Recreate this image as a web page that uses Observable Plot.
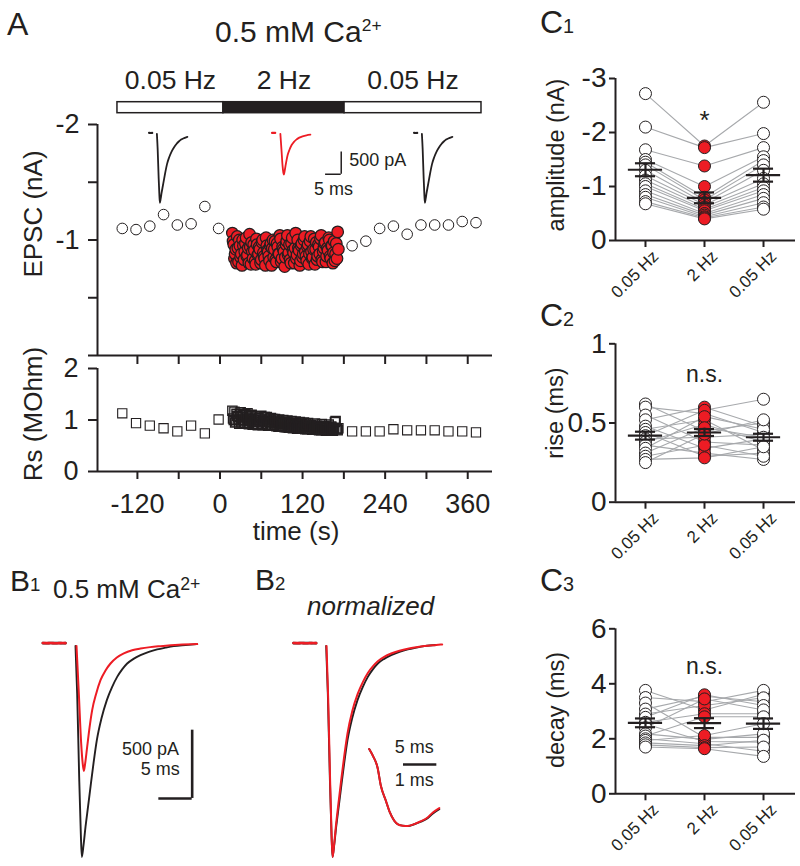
<!DOCTYPE html>
<html>
<head>
<meta charset="utf-8">
<script src="https://cdn.jsdelivr.net/npm/d3@7"></script>
<script src="https://cdn.jsdelivr.net/npm/@observablehq/plot@0.6"></script>
<style>
html, body { margin: 0; padding: 0; background: #fff; }
#fig { position: relative; width: 800px; height: 866px; overflow: hidden; background: #fff;
  font-family: 'Liberation Sans', Arial, Helvetica, sans-serif; color: #231f20; }
#fig > svg { position: absolute; }
.t { position: absolute; white-space: nowrap; line-height: 1; }
.t sup { font-size: 0.58em; line-height: 0; vertical-align: baseline; position: relative; top: -0.62em; }
.t sup.b { font-size: 0.68em; top: -0.45em; }
.t .sub { font-size: 0.62em; }
</style>
</head>
<body>
<div id="fig"></div>
<script>
// ================= DATA =================
// Panel A: time course (s), EPSC amplitude (nA), series resistance
const timeTicks = [-120, -60, 0, 60, 120, 180, 240, 300, 360];
const preTime  = [-142, -122, -102, -82, -62, -42, -22, -2];
const preEPSC  = [-1.10, -1.09, -1.12, -1.22, -1.13, -1.14, -1.29, -1.10];
const preRs    = [1.13, 0.94, 0.89, 0.84, 0.78, 0.89, 0.74, 1.01];
const postTime = [192, 212, 232, 252, 272, 292, 312, 332, 352, 372];
const postEPSC = [-0.95, -0.99, -1.10, -1.12, -1.05, -1.13, -1.13, -1.13, -1.16, -1.15];
const postRs   = [0.78, 0.78, 0.78, 0.82, 0.80, 0.80, 0.80, 0.78, 0.78, 0.76];
// 2 Hz train, sampled on even seconds ...
const trainTimeA = [18,20,22,24,26,28,30,32,34,36,38,40,42,44,46,48,50,52,54,56,58,60,62,64,66,68,70,72,74,76,78,80,82,84,86,88,90,92,94,96,98,100,102,104,106,108,110,112,114,116,118,120,122,124,126,128,130,132,134,136,138,140,142,144,146,148,150,152,154,156,158,160,162,164,166,168,170,172];
const trainEPSCA = [-1.06,-0.96,-0.88,-0.80,-0.93,-1.00,-0.85,-0.78,-0.95,-0.90,
  -1.02,-0.87,-0.80,-0.94,-0.98,-0.84,-0.91,-0.79,-0.96,-0.88,
  -0.92,-0.83,-1.00,-0.86,-0.78,-0.95,-0.90,-0.82,-0.97,-0.93,
  -0.85,-0.99,-0.81,-0.94,-0.88,-1.01,-0.84,-0.92,-0.77,-0.96,
  -1.04,-0.89,-0.83,-0.97,-0.91,-0.80,-1.06,-0.87,-0.93,-0.78,
  -0.95,-0.85,-1.00,-0.90,-0.82,-0.96,-0.88,-1.03,-0.84,-0.92,
  -0.79,-0.98,-0.86,-0.94,-1.01,-0.83,-0.90,-0.97,-0.81,-0.93,
  -1.02,-0.86,-0.95,-0.80,-0.99,-0.88,-0.84,-0.92];
const trainRsA = [1.18,1.00,0.95,1.12,1.06,0.93,1.15,0.99,1.09,0.94,
  1.05,1.13,0.92,1.02,1.10,0.91,1.00,1.07,0.93,1.04,
  0.97,1.08,0.90,1.01,0.96,1.06,0.89,0.99,1.04,0.91,
  0.96,1.02,0.88,0.97,1.01,0.87,0.95,1.00,0.86,0.94,
  0.99,0.85,0.93,0.98,0.84,0.92,0.97,0.83,0.91,0.96,
  0.84,0.90,0.95,0.82,0.89,0.94,0.83,0.90,0.81,0.88,
  0.93,0.82,0.89,0.80,0.87,0.92,0.81,0.88,0.79,0.86,
  0.91,0.80,0.87,0.79,0.85,0.98,0.82,0.84];
// ... and on odd seconds
const trainTimeB = [19,21,23,25,27,29,31,33,35,37,39,41,43,45,47,49,51,53,55,57,59,61,63,65,67,69,71,73,75,77,79,81,83,85,87,89,91,93,95,97,99,101,103,105,107,109,111,113,115,117,119,121,123,125,127,129,131,133,135,137,139,141,143,145,147,149,151,153,155,157,159,161,163,165,167,169,171];
const trainEPSCB = [-0.99,-0.84,-0.92,-1.03,-0.81,-0.95,-0.88,-1.00,-0.83,-0.97,
  -0.86,-0.93,-1.05,-0.79,-0.90,-0.96,-0.82,-1.01,-0.87,-0.94,
  -0.80,-0.98,-0.89,-0.84,-1.02,-0.91,-0.86,-0.95,-0.78,-1.00,
  -0.92,-0.83,-0.97,-0.88,-1.04,-0.81,-0.94,-0.90,-0.85,-0.99,
  -0.87,-0.96,-0.80,-1.02,-0.89,-0.93,-0.84,-1.00,-0.91,-0.82,
  -0.97,-0.88,-1.03,-0.86,-0.94,-0.79,-0.99,-0.90,-0.85,-1.01,
  -0.92,-0.83,-0.96,-0.88,-1.04,-0.81,-0.93,-0.98,-0.86,-0.91,
  -1.00,-0.84,-0.95,-0.89,-0.82,-0.97,-1.07];
const trainRsB = [1.03,1.16,0.97,1.08,1.01,1.12,0.95,1.06,1.00,1.11,
  0.94,1.03,0.98,1.08,0.92,1.01,0.96,1.05,0.90,0.99,
  1.03,0.93,0.98,1.06,0.91,0.96,1.01,0.89,0.95,1.02,
  0.90,0.94,0.99,0.87,0.93,0.97,0.89,0.92,0.96,0.86,
  0.91,0.95,0.87,0.90,0.94,0.85,0.89,0.93,0.84,0.88,
  0.92,0.83,0.87,0.91,0.82,0.86,0.90,0.84,0.88,0.81,
  0.85,0.89,0.82,0.86,0.80,0.84,0.88,0.81,0.85,0.79,
  0.83,0.87,0.80,0.84,0.96,0.82,0.80];
const protocolLabel = ["0.05 Hz", "2 Hz", "0.05 Hz"];
const protocolStart = [-149, 5, 181];
const protocolEnd   = [5, 181, 380];

// Panel B: example EPSC traces (time ms, current pA)
const baseT      = [-4.9, -4.3, -3.7, -3.1, -2.5, -1.9, -1.5];
const baseBlackI = [0, -1, 1, 0, 1, -1, 0];
const baseRedI   = [1, 0, 1, -1, 0, 1, 0];
const blackT = [0, 0.25, 0.55, 0.8, 0.95, 1.2, 1.5, 1.9, 2.25, 2.7, 3.2, 3.9, 4.7, 5.5, 6.25, 7.0, 7.75, 8.7, 9.75, 11.0, 12.25, 13.5, 14.75, 16.5, 18.25];
const blackI = [-20, -368, -979, -1400, -1565, -1480, -1345, -1190, -1052, -880, -710, -550, -417, -320, -247, -192, -149, -115, -88, -64, -46, -33, -22, -14, -7];
const redT = [0.15, 0.5, 0.85, 1.1, 1.25, 1.45, 1.75, 2.1, 2.5, 3.1, 3.75, 4.5, 5.25, 6.2, 7.25, 8.5, 9.75, 11.2, 12.75, 15.5, 18.25];
const redI = [-20, -368, -734, -890, -935, -880, -759, -620, -490, -370, -271, -200, -149, -105, -75, -52, -39, -29, -22, -12, -7];
const normT    = [0.05, 0.3, 0.6, 0.82, 0.97, 1.2, 1.5, 1.9, 2.25, 2.7, 3.2, 3.9, 4.7, 5.5, 6.25, 7.0, 7.75, 8.7, 9.75, 11.0, 12.25, 13.5, 14.75, 16.5, 17.4];
const normRedI = [-20, -400, -1020, -1420, -1565, -1470, -1320, -1150, -1005, -830, -660, -500, -375, -285, -218, -170, -132, -100, -76, -56, -41, -30, -21, -13, -9];
const zoomT      = [0, 0.11, 0.25, 0.35, 0.5, 0.62, 0.75, 0.86, 1.0, 1.16, 1.35, 1.55, 1.75, 1.9, 2.1];
const zoomRedI   = [-0.55, -0.589, -0.658, -0.765, -0.852, -0.921, -0.969, -0.99, -0.998, -1.0, -0.989, -0.972, -0.95, -0.922, -0.895];
const zoomBlackI = [-0.55, -0.589, -0.658, -0.765, -0.852, -0.921, -0.969, -0.99, -0.998, -1.0, -0.99, -0.975, -0.954, -0.928, -0.902];
const scaleBar = {ms: 5, pA: 500};

// Panel C: paired cells, 3 conditions
const condLabels = ["0.05 Hz", "2 Hz", "0.05 Hz"];
const ampPre  = [-2.72, -2.10, -1.68, -1.50, -1.45, -1.40, -1.30, -1.20, -1.12, -1.05, -1.00, -0.92, -0.85, -0.80, -0.72, -0.68];
const amp2Hz  = [-1.75, -1.72, -1.38, -1.00, -0.80, -0.75, -0.70, -0.66, -0.62, -0.58, -0.55, -0.50, -0.47, -0.44, -0.42, -0.40];
const ampPost = [-2.56, -1.98, -1.72, -1.55, -1.48, -1.40, -1.30, -1.15, -1.05, -0.98, -0.92, -0.85, -0.78, -0.70, -0.62, -0.58];
const ampMean = [-1.31, -0.79, -1.21];
const ampSem  = [0.12, 0.10, 0.12];
const risePre  = [0.62, 0.60, 0.55, 0.52, 0.48, 0.46, 0.44, 0.42, 0.40, 0.38, 0.36, 0.34, 0.31, 0.29, 0.27, 0.25];
const rise2Hz  = [0.45, 0.56, 0.38, 0.60, 0.34, 0.52, 0.29, 0.58, 0.41, 0.49, 0.31, 0.54, 0.47, 0.36, 0.28, 0.43];
const risePost = [0.50, 0.44, 0.36, 0.48, 0.40, 0.33, 0.31, 0.65, 0.43, 0.38, 0.27, 0.46, 0.41, 0.29, 0.35, 0.52];
const riseMean = [0.42, 0.44, 0.41];
const riseSem  = [0.025, 0.022, 0.022];
const decayPre  = [3.76, 3.50, 3.30, 3.08, 2.90, 2.78, 2.60, 2.54, 2.40, 2.18, 2.10, 2.00, 1.94, 1.85, 1.78, 1.70];
const decay2Hz  = [3.05, 3.35, 2.05, 3.55, 3.21, 3.60, 2.91, 1.90, 3.45, 1.98, 2.80, 1.82, 2.12, 1.75, 1.68, 1.64];
const decayPost = [3.62, 3.76, 2.05, 3.35, 3.49, 3.21, 2.91, 1.88, 3.05, 2.18, 2.80, 1.55, 2.55, 1.95, 1.70, 1.36];
const decayMean = [2.58, 2.57, 2.55];
const decaySem  = [0.16, 0.18, 0.19];

// ================= DRAWING =================
const INK = "#231f20", RED = "#ed1c24", GRAY = "#a7a9ac";
const FONT = "'Liberation Sans', Arial, Helvetica, sans-serif";
const fig = document.getElementById("fig");
const style = size => ({fontFamily: FONT, fontSize: size + "px", color: INK, background: "transparent", overflow: "visible"});
function put(svg, left, top) {
  svg.style.position = "absolute"; svg.style.left = left + "px"; svg.style.top = top + "px";
  fig.appendChild(svg); return svg;
}
function label(html, x, y, size, opt = {}) {
  const d = document.createElement("div");
  d.className = "t"; d.innerHTML = html; d.style.fontSize = size + "px";
  if (opt.italic) d.style.fontStyle = "italic";
  d.style.left = x + "px";
  if (opt.rotate) { d.style.top = y + "px"; d.style.transform = "translate(-50%,-50%) rotate(-90deg)"; }
  else { d.style.top = (y - 0.846 * size) + "px"; if (opt.anchor === "middle") d.style.transform = "translateX(-50%)"; }
  fig.appendChild(d);
}

// ---- Panel A ----
const openPts = preTime.map((t, i) => ({t, epsc: preEPSC[i], rs: preRs[i]}))
  .concat(postTime.map((t, i) => ({t, epsc: postEPSC[i], rs: postRs[i]})));
const trainPts = trainTimeA.map((t, i) => ({t, epsc: trainEPSCA[i], rs: trainRsA[i]}))
  .concat(trainTimeB.map((t, i) => ({t, epsc: trainEPSCB[i], rs: trainRsB[i]})))
  .sort((a, b) => a.t - b.t);
const tDomain = [-178, 396];
const protocol = protocolLabel.map((lab, i) => ({lab, t1: protocolStart[i], t2: protocolEnd[i]}));

put(Plot.plot({
  width: 500, height: 55, marginLeft: 97, marginRight: 8, marginTop: 41.7, marginBottom: 2.3,
  style: style(26), x: {domain: tDomain, axis: null},
  marks: [
    Plot.barX(protocol, {x1: "t1", x2: "t2", fill: d => d.lab === "2 Hz" ? INK : "white", stroke: INK, strokeWidth: 1.5}),
    Plot.text(protocol, {x: d => (d.t1 + d.t2) / 2, text: "lab", frameAnchor: "top", lineAnchor: "bottom", dy: -13.7, fontSize: 26.5, fill: INK})
  ]
}), 0, 60);

put(Plot.plot({
  width: 500, height: 260, marginLeft: 97, marginRight: 8, marginTop: 14, marginBottom: 15,
  style: style(27), x: {domain: tDomain, axis: null}, y: {domain: [0, -2], axis: null},
  marks: [
    Plot.axisY({ticks: [-2, -1.5, -1, -0.5, 0], tickSize: 9, tickPadding: 9, strokeWidth: 2, tickFormat: d => (d === -2 || d === -1) ? String(d) : "", label: null}),
    Plot.axisX({ticks: timeTicks, tickSize: 9, strokeWidth: 2, tickFormat: () => "", label: null}),
    Plot.ruleX([tDomain[0]], {strokeWidth: 2, stroke: INK}),
    Plot.ruleY([0], {strokeWidth: 2, stroke: INK}),
    Plot.dot(openPts, {x: "t", y: "epsc", r: 5.3, fill: "white", stroke: INK, strokeWidth: 1}),
    Plot.dot(trainPts, {x: "t", y: "epsc", r: 5.8, fill: RED, stroke: INK, strokeWidth: 1.25})
  ]
}), 0, 110);

put(Plot.plot({
  width: 500, height: 161, marginLeft: 97, marginRight: 8, marginTop: 8, marginBottom: 50,
  style: style(27), x: {domain: tDomain, axis: null}, y: {domain: [0, 2], axis: null},
  marks: [
    Plot.axisY({ticks: [0, 1, 2], tickSize: 9, tickPadding: 10, strokeWidth: 2, tickFormat: d => String(d), label: null}),
    Plot.axisX({ticks: timeTicks, tickSize: 8, tickPadding: 14, strokeWidth: 2, tickFormat: d => d % 120 === 0 ? String(d) : "", label: null}),
    Plot.ruleX([tDomain[0]], {strokeWidth: 2, stroke: INK}),
    Plot.ruleY([0], {strokeWidth: 2, stroke: INK}),
    Plot.dot(trainPts, {x: "t", y: "rs", symbol: "square", r: 5.2, fill: "none", stroke: INK, strokeWidth: 1.35}),
    Plot.dot(openPts, {x: "t", y: "rs", symbol: "square", r: 5.2, fill: "white", stroke: INK, strokeWidth: 1.1})
  ]
}), 0, 360);

// trace helpers
const pair = (ts, vs) => ts.map((t, i) => ({t, v: vs[i]}));
const black = pair(blackT, blackI), red = pair(redT, redI), normRed = pair(normT, normRedI);
const baseB = pair(baseT, baseBlackI), baseR = pair(baseT, baseRedI);
const zoomB = pair(zoomT, zoomBlackI), zoomR = pair(zoomT, zoomRedI);
const within = (d, a, b) => d.filter(p => p.t >= a && p.t <= b);
const ln = (data, stroke, w) => Plot.line(data, {x: "t", y: "v", stroke, strokeWidth: w, curve: "monotone-x"});
function traceSvg(t0x, zeroY, xDomain, yDomain, px, py, marks, fontSize = 18) {
  const w = (xDomain[1] - xDomain[0]) * px, h = (yDomain[1] - yDomain[0]) * py;
  return put(Plot.plot({width: w, height: h, margin: 0, style: style(fontSize),
    x: {domain: xDomain, axis: null}, y: {domain: yDomain, axis: null}, marks}),
    t0x + xDomain[0] * px, zeroY - yDomain[1] * py);
}

// A insets
const ins = {px: 3.13, py: 0.0446};
const insetBar = {t: 19.6, i: -926};
traceSvg(156, 132.7, [-3, 11], [-1700, 100], ins.px, ins.py, [
  ln(within(baseB, -2.6, 0), INK, 2.2), ln(within(black, 0, 10.3), INK, 1.8)]);
traceSvg(279.3, 132.7, [-3, 21], [-1700, 100], ins.px, ins.py, [
  ln(within(baseR, -2.6, 0), RED, 2.2), ln(within(red, 0, 10.4), RED, 1.8),
  Plot.ruleX([insetBar], {x: "t", y1: "i", y2: d => d.i + scaleBar.pA, stroke: INK, strokeWidth: 1.5}),
  Plot.ruleY([insetBar], {y: "i", x1: d => d.t - scaleBar.ms, x2: "t", stroke: INK, strokeWidth: 1.5}),
  Plot.text([insetBar], {x: "t", y: d => d.i + scaleBar.pA / 2, text: () => `${scaleBar.pA} pA`, textAnchor: "start", dx: 8, dy: -3, fontSize: 18, fill: INK}),
  Plot.text([insetBar], {x: d => d.t - scaleBar.ms / 2, y: "i", text: () => `${scaleBar.ms} ms`, lineAnchor: "top", dy: 8, fontSize: 18, fill: INK})
]);
traceSvg(421.7, 132.7, [-3, 11], [-1700, 100], ins.px, ins.py, [
  ln(within(baseB, -2.8, 0), INK, 2.2), ln(within(black, 0, 10.3), INK, 1.8)]);

// B1
const bs = {px: 6.667, py: 0.1366};
const b1Bar = {t: 17.5, i: -1137};
traceSvg(75, 643, [-6, 26], [-1700, 100], bs.px, bs.py, [
  ln(baseB, INK, 2.6), ln(baseR, RED, 2.6), ln(black, INK, 1.9), ln(red, RED, 2),
  Plot.ruleX([b1Bar], {x: "t", y1: "i", y2: d => d.i + scaleBar.pA, stroke: INK, strokeWidth: 2.6}),
  Plot.ruleY([b1Bar], {y: "i", x1: d => d.t - scaleBar.ms, x2: "t", stroke: INK, strokeWidth: 2.6}),
  Plot.text([b1Bar], {x: "t", y: "i", text: () => `${scaleBar.pA} pA`, textAnchor: "end", lineAnchor: "bottom", dx: -13.2, dy: -43.3, fontSize: 18, fill: INK}),
  Plot.text([b1Bar], {x: "t", y: "i", text: () => `${scaleBar.ms} ms`, textAnchor: "end", lineAnchor: "bottom", dx: -12.5, dy: -23.3, fontSize: 18, fill: INK})
]);

// B2
const b2Bar = {t: 11.6, i: -888};
traceSvg(326, 643, [-5.5, 20], [-1700, 100], bs.px, bs.py, [
  ln(baseB, INK, 2.6), ln(baseR, RED, 2.6), ln(within(black, 0, 17.4), INK, 1.9), ln(normRed, RED, 2),
  Plot.ruleY([b2Bar], {y: "i", x1: "t", x2: d => d.t + scaleBar.ms, stroke: INK, strokeWidth: 2.6}),
  Plot.text([b2Bar], {x: d => d.t + scaleBar.ms / 2, y: "i", text: () => `${scaleBar.ms} ms`, lineAnchor: "bottom", dx: -6, dy: -11.6, fontSize: 18, fill: INK}),
  Plot.text([b2Bar], {x: d => d.t + scaleBar.ms / 2, y: "i", text: () => "1 ms", lineAnchor: "bottom", dx: -6, dy: 21.7, fontSize: 18, fill: INK})
]);
traceSvg(368.3, 654.2, [-0.05, 2.2], [-1.05, -0.5], 33.4, 171, [ln(zoomB, INK, 1.9), ln(zoomR, RED, 2)]);

// ---- Panel C ----
function catPanel({top, mt, plotH, yDomain, yTicks, pre, mid, post, mean, sem, note, noteDy, noteSize}) {
  const xs = [-0.508, 2.542];
  const pts = [];
  pre.forEach((_, c) => [pre, mid, post].forEach((arr, g) => pts.push({c, g, v: arr[c]})));
  const stats = mean.map((m, g) => ({g, m, s: sem[g]}));
  return put(Plot.plot({
    width: 260, height: mt + plotH + 60, marginLeft: 75, marginRight: 5, marginTop: mt, marginBottom: 60,
    style: style(28), x: {domain: xs, axis: null}, y: {domain: yDomain, axis: null},
    marks: [
      Plot.axisY({ticks: yTicks, tickSize: 6, tickPadding: 3, strokeWidth: 2, tickFormat: d => String(d), label: null}),
      Plot.axisX({ticks: [0, 1, 2], tickSize: 7, strokeWidth: 2, tickFormat: () => "", label: null}),
      Plot.ruleX([xs[0]], {strokeWidth: 2, stroke: INK}),
      Plot.ruleY([0], {strokeWidth: 2, stroke: INK}),
      Plot.line(pts, {x: "g", y: "v", z: "c", stroke: GRAY, strokeWidth: 1.1}),
      Plot.dot(pts, {x: "g", y: "v", r: 6, fill: d => d.g === 1 ? RED : "white", stroke: INK, strokeWidth: 1}),
      Plot.ruleY(stats, {y: "m", x1: d => d.g - 0.29, x2: d => d.g + 0.29, stroke: INK, strokeWidth: 2.2}),
      Plot.ruleY(stats, {y: d => d.m - d.s, x1: d => d.g - 0.17, x2: d => d.g + 0.17, stroke: INK, strokeWidth: 2.2}),
      Plot.ruleY(stats, {y: d => d.m + d.s, x1: d => d.g - 0.17, x2: d => d.g + 0.17, stroke: INK, strokeWidth: 2.2}),
      Plot.ruleX(stats, {x: "g", y1: d => d.m - d.s, y2: d => d.m + d.s, stroke: INK, strokeWidth: 2.2}),
      Plot.text([1], {x: d => d, text: () => note, frameAnchor: "top", lineAnchor: "bottom", dy: noteDy, fontSize: noteSize, fill: INK}),
      Plot.text([0, 1, 2], {x: d => d, text: d => condLabels[d], frameAnchor: "bottom", rotate: -45, textAnchor: "end", lineAnchor: "bottom", dx: 14, dy: 17, fontSize: 17, fill: INK})
    ]
  }), 540, top);
}
catPanel({top: 0, mt: 78, plotH: 162, yDomain: [0, -3], yTicks: [0, -1, -2, -3], pre: ampPre, mid: amp2Hz, post: ampPost, mean: ampMean, sem: ampSem, note: "*", noteDy: 50, noteSize: 26});
catPanel({top: 290, mt: 53.3, plotH: 158.4, yDomain: [0, 1], yTicks: [0, 0.5, 1], pre: risePre, mid: rise2Hz, post: risePost, mean: riseMean, sem: riseSem, note: "n.s.", noteDy: 38.4, noteSize: 23});
catPanel({top: 560, mt: 68.3, plotH: 165, yDomain: [0, 6], yTicks: [0, 2, 4, 6], pre: decayPre, mid: decay2Hz, post: decayPost, mean: decayMean, sem: decaySem, note: "n.s.", noteDy: 45.7, noteSize: 23});

// ---- Text labels ----
label("A", 7, 35, 32);
label("0.5 mM Ca<sup>2+</sup>", 215, 42, 30);
label("EPSC (nA)", 33, 214, 26, {rotate: true});
label("Rs (MOhm)", 33, 414, 26, {rotate: true});
label("time (s)", 296, 540, 26, {anchor: "middle"});
label("B<span class=\"sub\">1</span>", 10, 591.7, 30);
label("0.5 mM Ca<sup class=\"b\">2+</sup>", 53, 598, 26);
label("B<span class=\"sub\">2</span>", 255, 590, 30);
label("normalized", 307, 615, 26, {italic: true});
label("C<span class=\"sub\">1</span>", 540, 33, 32);
label("C<span class=\"sub\">2</span>", 540, 326, 32);
label("C<span class=\"sub\">3</span>", 540, 591, 32);
label("amplitude (nA)", 557, 155, 23.5, {rotate: true});
label("rise (ms)", 556, 413, 23.5, {rotate: true});
label("decay (ms)", 557, 710, 23.5, {rotate: true});
</script>
</body>
</html>
